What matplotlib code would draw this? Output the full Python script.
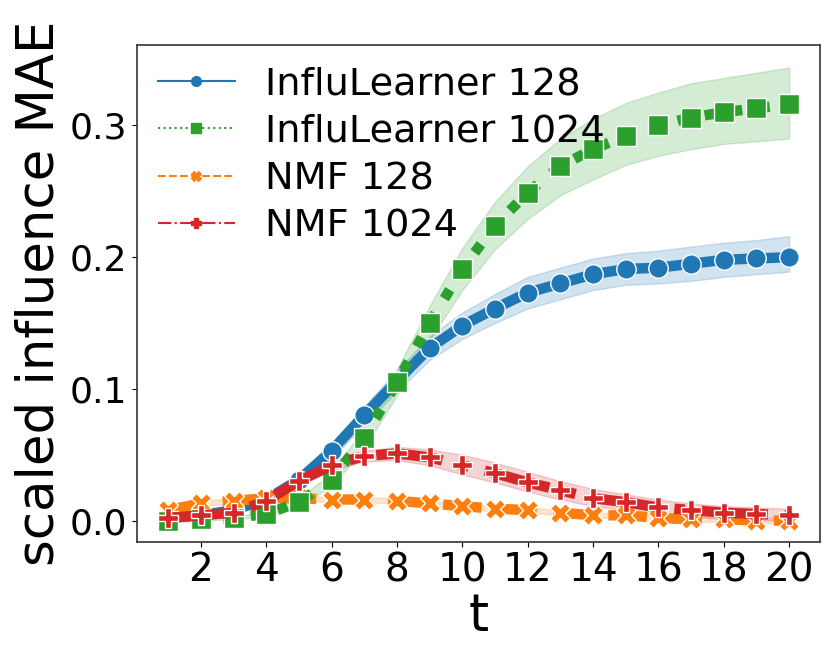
import matplotlib
matplotlib.use('Agg')
import matplotlib.pyplot as plt
from matplotlib.lines import Line2D
import numpy as np

t = np.arange(1, 21)

# InfluLearner 128
il128 = [0.002, 0.004, 0.008, 0.016, 0.031, 0.053, 0.080, 0.106, 0.131, 0.148,
         0.161, 0.173, 0.180, 0.187, 0.191, 0.192, 0.195, 0.198, 0.199, 0.200]
il128_lo = [0.001, 0.003, 0.006, 0.013, 0.027, 0.047, 0.073, 0.098, 0.122, 0.138,
            0.150, 0.161, 0.168, 0.175, 0.179, 0.180, 0.182, 0.185, 0.187, 0.189]
il128_hi = [0.003, 0.005, 0.010, 0.019, 0.035, 0.059, 0.087, 0.114, 0.140, 0.158,
            0.172, 0.185, 0.192, 0.199, 0.203, 0.205, 0.208, 0.211, 0.213, 0.216]

# InfluLearner 1024
il1024 = [0.000, 0.001, 0.002, 0.005, 0.014, 0.031, 0.063, 0.105, 0.150, 0.191,
          0.224, 0.249, 0.269, 0.282, 0.292, 0.300, 0.306, 0.310, 0.313, 0.316]
il1024_lo = [-0.001, 0.000, 0.001, 0.003, 0.011, 0.026, 0.055, 0.095, 0.137, 0.175,
             0.206, 0.229, 0.247, 0.259, 0.270, 0.277, 0.282, 0.286, 0.288, 0.290]
il1024_hi = [0.001, 0.002, 0.003, 0.007, 0.017, 0.036, 0.071, 0.115, 0.163, 0.207,
             0.242, 0.269, 0.290, 0.305, 0.317, 0.325, 0.332, 0.336, 0.340, 0.344]

# NMF 128
nmf128 = [0.008, 0.013, 0.015, 0.017, 0.017, 0.016, 0.016, 0.015, 0.013, 0.011,
          0.009, 0.008, 0.006, 0.004, 0.004, 0.002, 0.001, 0.001, 0.000, 0.000]
nmf128_lo = [0.006, 0.011, 0.013, 0.015, 0.015, 0.014, 0.014, 0.013, 0.011, 0.009,
             0.007, 0.006, 0.004, 0.002, 0.002, 0.000, -0.001, -0.001, -0.002, -0.002]
nmf128_hi = [0.010, 0.015, 0.017, 0.019, 0.019, 0.018, 0.018, 0.017, 0.015, 0.013,
             0.011, 0.010, 0.008, 0.006, 0.006, 0.004, 0.003, 0.003, 0.002, 0.002]

# NMF 1024
nmf1024 = [0.002, 0.004, 0.006, 0.015, 0.030, 0.042, 0.049, 0.051, 0.048, 0.042,
           0.036, 0.029, 0.023, 0.017, 0.014, 0.010, 0.008, 0.006, 0.005, 0.004]
nmf1024_lo = [0.001, 0.003, 0.005, 0.013, 0.027, 0.038, 0.045, 0.046, 0.042, 0.035,
              0.029, 0.022, 0.016, 0.011, 0.008, 0.005, 0.003, 0.001, 0.000, 0.000]
nmf1024_hi = [0.003, 0.005, 0.007, 0.017, 0.033, 0.046, 0.053, 0.056, 0.054, 0.050,
              0.044, 0.037, 0.030, 0.024, 0.020, 0.016, 0.013, 0.011, 0.010, 0.009]

labels = ['InfluLearner 128', 'InfluLearner 1024', 'NMF 128', 'NMF 1024']
colors = ['#1f77b4', '#2ca02c', '#ff7f0e', '#d62728']
styles = ['-', ':', '--', '-.']
marks = ['o', 's', 'X', 'P']

series = {
    'InfluLearner 128': (il128, il128_lo, il128_hi),
    'InfluLearner 1024': (il1024, il1024_lo, il1024_hi),
    'NMF 128': (nmf128, nmf128_lo, nmf128_hi),
    'NMF 1024': (nmf1024, nmf1024_lo, nmf1024_hi),
}

fig = plt.figure(figsize=(8.31, 6.63), dpi=100)
ax = fig.add_axes([0.165, 0.183, 0.822, 0.749])

order = [0, 2, 1, 3]  # drawing order
for i in order:
    name = labels[i]
    y, lo, hi = series[name]
    ax.fill_between(t, lo, hi, color=colors[i], alpha=0.2, linewidth=1)
    ax.plot(t, y, color=colors[i], linestyle=styles[i], linewidth=7.5,
            marker=marks[i], markersize=14, markeredgecolor='white',
            markeredgewidth=1)

handles = [Line2D([], [], color=colors[i], linestyle=styles[i], linewidth=1.5,
                  marker=marks[i], markersize=7) for i in range(4)]
ax.legend(handles, labels, loc='upper left', fontsize=27.5, frameon=False,
          handlelength=2.0, borderaxespad=0.15, labelspacing=0.3)

for s in ax.spines.values():
    s.set_color('#333333')
    s.set_linewidth(1.2)

ax.set_xticks(np.arange(2, 21, 2))
ax.set_yticks([0.0, 0.1, 0.2, 0.3])
ax.set_ylim(-0.016, 0.361)
ax.tick_params(axis='x', labelsize=28)
ax.tick_params(axis='y', labelsize=26)
ax.set_xlabel('t', fontsize=37, labelpad=2)
ax.set_ylabel('scaled influence MAE', fontsize=37, labelpad=4)

fig.savefig('out.png')
